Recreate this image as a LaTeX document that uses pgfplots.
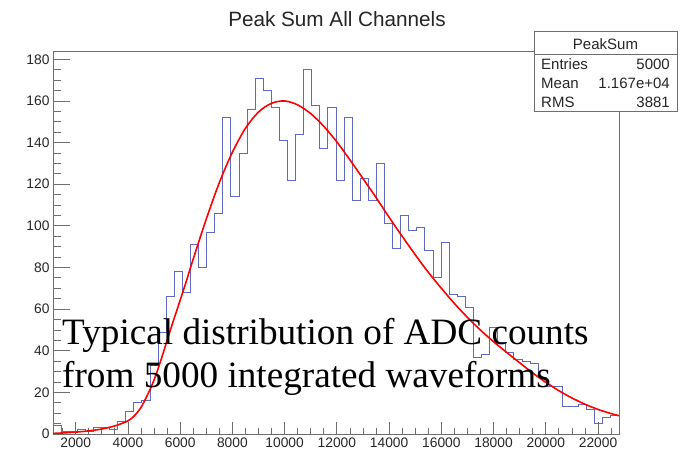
\documentclass[border=0pt]{standalone}
\usepackage{pgfplots}
\pgfplotsset{compat=1.18}
\usepackage{fontspec}
\setmainfont{Liberation Sans}
\newfontfamily\timesf{Liberation Serif}
\definecolor{histblue}{RGB}{95,105,195}
\definecolor{framegray}{RGB}{110,110,110}
\begin{document}
\begin{tikzpicture}
\useasboundingbox (0,0) rectangle (681pt,450pt);
\fill[white] (0,0) rectangle (681pt,450pt);
\pgfplotsset{rootax/.style={at={(53pt,16pt)}, anchor=south west, width=566pt, height=383pt, scale only axis,
  xmin=1130, xmax=22802, ymin=0, ymax=184,
  axis line style={framegray, line width=0.9pt},
  tick style={framegray, line width=0.8pt}, tick align=inside,
  xtick pos=left, ytick pos=left,
  ticklabel style={font=\fontsize{13.8}{16}\selectfont, text=black!85},
  /pgf/number format/assume math mode=true, /pgf/number format/1000 sep={},
  scaled ticks=false}}
\begin{axis}[rootax, ytick=\empty, xtick={2000,4000,...,22000}, minor xtick={1500,2000,...,22500},
  major tick length=11.5pt, minor tick length=5.75pt]
\addplot[draw=none] coordinates {(2000,0)};
\end{axis}
\begin{axis}[rootax, xtick=\empty, ytick={0,20,...,180}, minor ytick={0,5,...,180},
  major tick length=17pt, minor tick length=8.5pt]
\addplot[histblue, line width=0.9pt, const plot] coordinates {
(1130,4) (1439.6,1) (1749.2,1) (2058.8,2) (2368.4,1) (2678,3) (2987.6,3) (3297.2,2) (3606.8,6) (3916.4,11)
(4226,15) (4535.6,16) (4845.2,33) (5154.8,49) (5464.4,66) (5774,78) (6083.6,68) (6393.2,91) (6702.8,80) (7012.4,97)
(7322,106) (7631.6,152) (7941.2,114) (8250.8,135) (8560.4,156) (8870,171) (9179.6,165) (9489.2,157) (9798.8,141) (10108.4,122)
(10418,144) (10727.6,175) (11037.2,158) (11346.8,137) (11656.4,157) (11966,122) (12275.6,152) (12585.2,112) (12894.8,123) (13204.4,112)
(13514,130) (13823.6,101) (14133.2,89) (14442.8,105) (14752.4,98) (15062,99) (15371.6,88) (15681.2,75) (15990.8,92) (16300.4,67)
(16610,66) (16919.6,61) (17229.2,37) (17538.8,38) (17848.4,51) (18158,44) (18467.6,39) (18777.2,36) (19086.8,35) (19396.4,34)
(19706,27) (20015.6,23) (20325.2,23) (20634.8,13) (20944.4,13) (21254,14) (21563.6,12) (21873.2,5) (22182.8,8) (22492.4,9)
(22802,9)};
\addplot[red, line width=1.6pt, smooth] coordinates {
(1130,0.3) (1500,0.5) (2000,0.9) (2500,1.5) (3000,2.4) (3500,3.9) (4000,6.3) (4250,8.8) (4500,12.8) (4750,18.8)
(5000,26) (5250,35) (5500,45) (5750,54.8) (6000,64.3) (6250,74) (6500,84.1) (7000,103.3) (7500,120.8) (8000,135.4)
(8500,146.9) (9000,154.7) (9500,158.9) (10000,160) (10500,158.1) (11000,153.9) (11500,147.8) (12000,140.3) (12500,131.7)
(13000,122.7) (13500,113.6) (14000,104.1) (14500,95.0) (15000,86.1) (15500,77.7) (16000,70.0) (16500,62.7) (17000,56.0)
(17500,49.9) (18000,44.3) (18500,39.2) (19000,34.2) (19500,29.3) (20000,24.8) (20500,20.8) (21000,17.3) (21500,14.3)
(22000,11.8) (22500,9.8) (22802,8.8)};
\end{axis}
% title
\node[anchor=base, font=\fontsize{20.7}{24}\selectfont, text=black!85] at (337pt,423pt) {Peak Sum All Channels};
% stats box
\draw[framegray, line width=0.8pt, fill=white] (534pt,339pt) rectangle (677pt,419pt);
\draw[framegray, line width=0.8pt] (534pt,395.7pt) -- (677pt,395.7pt);
\begin{scope}[every node/.style={font=\fontsize{15}{17}\selectfont, text=black!85, inner sep=0pt}]
\node[anchor=base] at (605.5pt,400pt) {PeakSum};
\node[anchor=base west] at (541pt,380.3pt) {Entries};
\node[anchor=base east] at (670pt,380.3pt) {5000};
\node[anchor=base west] at (541pt,361.9pt) {Mean};
\node[anchor=base east] at (670pt,361.9pt) {1.167e+04};
\node[anchor=base west] at (541pt,342.9pt) {RMS};
\node[anchor=base east] at (670pt,342.9pt) {3881};
\end{scope}
% annotation
\node[anchor=base west, inner sep=0pt, font=\timesf\fontsize{37.2}{40}\selectfont] at (62pt,105pt) {Typical distribution of ADC counts};
\node[anchor=base west, inner sep=0pt, font=\timesf\fontsize{37.2}{40}\selectfont] at (62pt,62pt) {from 5000 integrated waveforms};
\end{tikzpicture}
\end{document}
